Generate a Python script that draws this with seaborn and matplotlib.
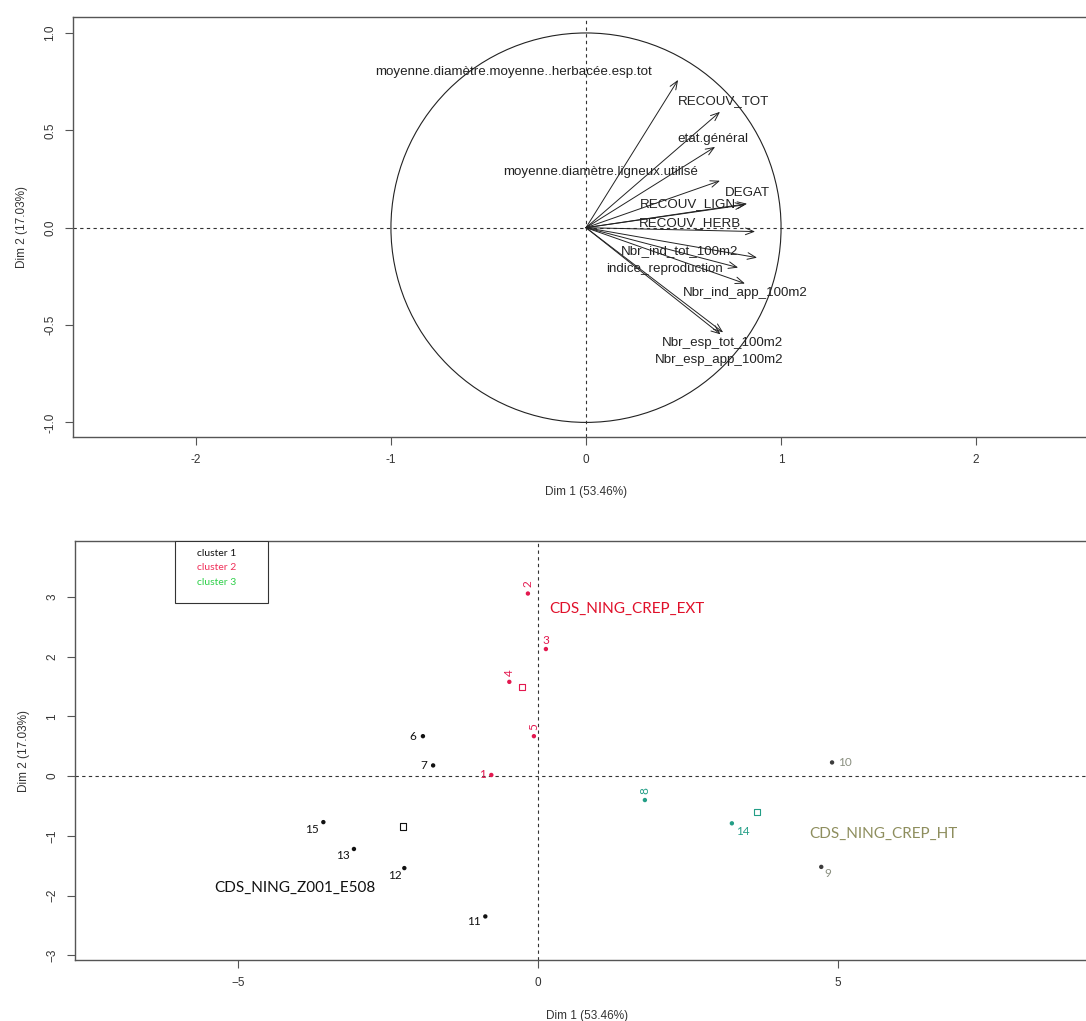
import numpy as np
import pandas as pd
import matplotlib
matplotlib.use("Agg")
import matplotlib.pyplot as plt
from matplotlib.patches import Circle, Rectangle
import seaborn as sns

# ---------------- data ----------------
var_names = [
    "moyenne.diamètre.moyenne..herbacée.esp.tot",
    "RECOUV_TOT",
    "etat.général",
    "moyenne.diamètre.ligneux.utilisé",
    "DEGAT",
    "RECOUV_LIGN",
    "RECOUV_HERB",
    "Nbr_ind_tot_100m2",
    "indice_reproduction",
    "Nbr_ind_app_100m2",
    "Nbr_esp_tot_100m2",
    "Nbr_esp_app_100m2",
]
var_dim1 = [0.472, 0.687, 0.662, 0.687, 0.826, 0.815, 0.867, 0.877, 0.780, 0.815, 0.703, 0.690]
var_dim2 = [0.759, 0.595, 0.415, 0.241, 0.123, 0.118, -0.020, -0.154, -0.205, -0.287, -0.538, -0.548]

ind_ids = ["1", "2", "3", "4", "5", "6", "7", "8", "9", "10", "11", "12", "13", "14", "15"]
ind_dim1 = [-0.78, -0.17, 0.13, -0.48, -0.07, -1.92, -1.75, 1.78, 4.72, 4.90, -0.88, -2.23, -3.07, 3.23, -3.58]
ind_dim2 = [0.02, 3.06, 2.13, 1.58, 0.67, 0.67, 0.18, -0.40, -1.52, 0.23, -2.35, -1.54, -1.22, -0.79, -0.77]
ind_cluster = ["cluster 2", "cluster 2", "cluster 2", "cluster 2", "cluster 2",
               "cluster 1", "cluster 1", "cluster 3", "cluster 3", "cluster 3",
               "cluster 1", "cluster 1", "cluster 1", "cluster 3", "cluster 1"]

cluster_names = ["cluster 1", "cluster 2", "cluster 3"]
cluster_titles = ["CDS_NING_Z001_E508", "CDS_NING_CREP_EXT", "CDS_NING_CREP_HT"]
centroid_dim1 = [-2.25, -0.27, 3.65]
centroid_dim2 = [-0.84, 1.49, -0.60]

dim1_label = "Dim 1 (53.46%)"
dim2_label = "Dim 2 (17.03%)"

# ---------------- layout / style ----------------
var_label_pos = [(-0.374, 0.800), (0.703, 0.651), (0.651, 0.456), (0.077, 0.287),
                 (0.830, 0.180), (0.525, 0.120), (0.533, 0.026), (0.482, -0.118),
                 (0.405, -0.210), (0.815, -0.333), (0.700, -0.590), (0.680, -0.680)]
# offsets (points) and rotation of individual labels
ind_label_off = {"1": (-6, 0, 0), "2": (0, 7, 90), "3": (0, 6, 0), "4": (0, 7, 90),
                 "5": (0, 7, 90), "6": (-7, 0, 0), "7": (-7, 0, 0), "8": (0, 7, 90),
                 "9": (5, -5, 0), "10": (9, 0, 0), "11": (-8, -4, 0), "12": (-7, -5, 0),
                 "13": (-8, -5, 0), "14": (8, -6, 0), "15": (-8, -5, 0)}
cluster_colors = {"cluster 1": "#111111", "cluster 2": "#e3184f", "cluster 3": "#239e86"}
point_colors = {i: cluster_colors[c] for i, c in zip(ind_ids, ind_cluster)}
point_colors["9"] = "#3c3c3c"
point_colors["10"] = "#3c3c3c"
label_colors = dict(point_colors)
label_colors["9"] = "#8a8f80"
label_colors["10"] = "#8a8f80"
title_colors = ["#111111", "#e0102a", "#8e8e5e"]
title_pos = [(-4.05, -1.87), (1.48, 2.80), (5.75, -0.97)]
legend_colors = ["#111111", "#f0305a", "#2fd04a"]

sns.set_theme(style="white")
plt.rcParams["font.family"] = ["Liberation Sans", "DejaVu Sans"]
spine_col = "#555555"

W, H = 1086, 1021
fig = plt.figure(figsize=(W / 100, H / 100), dpi=100)
fig.patch.set_facecolor("white")

def px_axes(l, r, t, b):
    return fig.add_axes([l / W, 1 - b / H, (r - l) / W, (b - t) / H])

def style_axes(ax):
    for s in ax.spines.values():
        s.set_color(spine_col)
        s.set_linewidth(1.0)
    ax.tick_params(axis="both", direction="out", length=6, width=0.8, color=spine_col,
                   labelsize=8.5, labelcolor="#333333", pad=6,
                   bottom=True, left=True)
    for lab in ax.get_yticklabels():
        lab.set_rotation(90)
        lab.set_va("center")
    ax.grid(False)

# ---------------- top panel: variables ----------------
ax1 = px_axes(73, 1099, 17, 437)
ax1.set_xlim(-2.63, 2.63)
ax1.set_ylim(-1.075, 1.082)
ax1.axhline(0, color="#333333", lw=0.8, ls=(0, (3, 3)))
ax1.axvline(0, color="#333333", lw=0.8, ls=(0, (3, 3)))
ax1.add_patch(Circle((0, 0), 1.0, fill=False, ec="#222222", lw=0.8))
for name, x, y, (lx, ly) in zip(var_names, var_dim1, var_dim2, var_label_pos):
    ax1.annotate("", xy=(x, y), xytext=(0, 0),
                 arrowprops=dict(arrowstyle="->,head_length=0.5,head_width=0.2",
                                 color="#222222", lw=0.7, shrinkA=0, shrinkB=0))
    ax1.text(lx, ly, name, ha="center", va="center", fontsize=9.6, color="#222222")
ax1.set_xticks([-2, -1, 0, 1, 2])
ax1.set_yticks([-1.0, -0.5, 0.0, 0.5, 1.0])
ax1.set_xticklabels(["-2", "-1", "0", "1", "2"])
ax1.set_yticklabels(["-1.0", "-0.5", "0.0", "0.5", "1.0"])
style_axes(ax1)
ax1.set_xlabel(dim1_label, fontsize=8.5, color="#333333", labelpad=15)
ax1.set_ylabel(dim2_label, fontsize=8.5, color="#333333", labelpad=12)

# ---------------- bottom panel: individuals ----------------
df = pd.DataFrame({"id": ind_ids, "Dim1": ind_dim1, "Dim2": ind_dim2, "cluster": ind_cluster})
ax2 = px_axes(75, 1099, 541, 960)
ax2.set_xlim(-7.72, 9.35)
ax2.set_ylim(-3.08, 3.94)
ax2.axhline(0, color="#333333", lw=0.8, ls=(0, (3, 3)))
ax2.axvline(0, color="#333333", lw=0.8, ls=(0, (3, 3)))
sns.scatterplot(data=df, x="Dim1", y="Dim2", hue="id", palette=point_colors,
                s=10, edgecolor="none", legend=False, ax=ax2, zorder=3)
cent = pd.DataFrame({"Dim1": centroid_dim1, "Dim2": centroid_dim2, "cluster": cluster_names})
sns.scatterplot(data=cent, x="Dim1", y="Dim2", marker="s", s=22, facecolor="none",
                edgecolor=[cluster_colors[c] for c in cluster_names], linewidth=0.8,
                legend=False, ax=ax2, zorder=3)
for i, x, y in zip(ind_ids, ind_dim1, ind_dim2):
    dx, dy, rot = ind_label_off[i]
    ax2.annotate(i, xy=(x, y), xytext=(dx, dy), textcoords="offset points",
                 ha="center", va="center", rotation=rot, fontsize=8.5,
                 color=label_colors[i], family=["Lato", "DejaVu Sans"])
for t, c, (tx, ty) in zip(cluster_titles, title_colors, title_pos):
    ax2.text(tx, ty, t, ha="center", va="center", fontsize=11, color=c,
             family=["Lato", "DejaVu Sans"])
ax2.set_xticks([-5, 0, 5])
ax2.set_xticklabels(["\u22125", "0", "5"])
ax2.set_yticks([-3, -2, -1, 0, 1, 2, 3])
ax2.set_yticklabels(["\u22123", "\u22122", "\u22121", "0", "1", "2", "3"])
style_axes(ax2)
ax2.set_xlabel(dim1_label, fontsize=8.5, color="#333333", labelpad=15)
ax2.set_ylabel(dim2_label, fontsize=8.5, color="#333333", labelpad=12)

# legend box (drawn in axes fraction coordinates)
ax2.add_patch(Rectangle((0.0977, 0.852), 0.091, 0.148, transform=ax2.transAxes,
                        fill=True, fc="white", ec="#333333", lw=0.8, zorder=4))
for k, (name, c) in enumerate(zip(cluster_names, legend_colors)):
    ax2.text(0.1191, 0.970 - 0.034 * k, name, transform=ax2.transAxes, ha="left",
             va="center", fontsize=7.5, color=c, family=["Lato", "DejaVu Sans"], zorder=5)

fig.savefig("out.png", dpi=100)
